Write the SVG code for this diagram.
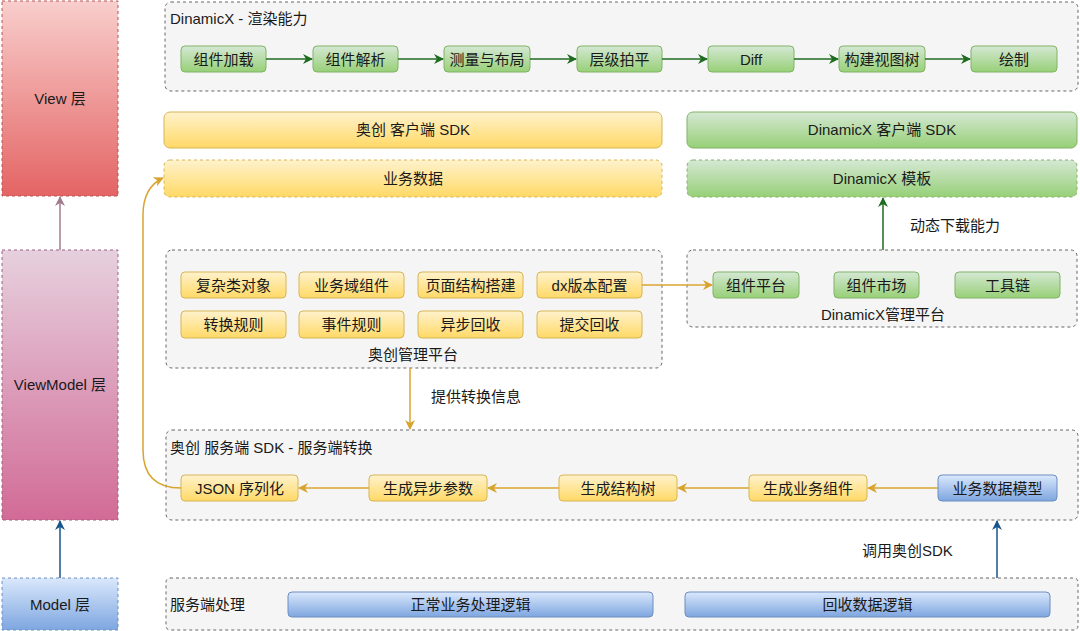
<svg xmlns="http://www.w3.org/2000/svg" width="1080" height="631" viewBox="0 0 1080 631">
<defs>
<linearGradient id="gG" x1="0" y1="0" x2="0" y2="1"><stop offset="0" stop-color="#d5e8d4"/><stop offset="1" stop-color="#97d077"/></linearGradient>
<linearGradient id="gY" x1="0" y1="0" x2="0" y2="1"><stop offset="0" stop-color="#fff2cc"/><stop offset="1" stop-color="#ffd966"/></linearGradient>
<linearGradient id="gB" x1="0" y1="0" x2="0" y2="1"><stop offset="0" stop-color="#dae8fc"/><stop offset="1" stop-color="#7ea6e0"/></linearGradient>
<linearGradient id="gR" x1="0" y1="0" x2="0" y2="1"><stop offset="0" stop-color="#f8cecc"/><stop offset="1" stop-color="#e46464"/></linearGradient>
<linearGradient id="gP" x1="0" y1="0" x2="0" y2="1"><stop offset="0" stop-color="#e6d0de"/><stop offset="1" stop-color="#d26b96"/></linearGradient>
<marker id="mG" viewBox="0 0 10 10" refX="9" refY="5" markerWidth="10" markerHeight="10" markerUnits="userSpaceOnUse" orient="auto"><path d="M0,0 L10,5 L0,10 L3,5 z" fill="#1f6b1f"/></marker>
<marker id="mY" viewBox="0 0 10 10" refX="9" refY="5" markerWidth="10" markerHeight="10" markerUnits="userSpaceOnUse" orient="auto"><path d="M0,0 L10,5 L0,10 L3,5 z" fill="#d9a42e"/></marker>
<marker id="mB" viewBox="0 0 10 10" refX="9" refY="5" markerWidth="10" markerHeight="10" markerUnits="userSpaceOnUse" orient="auto"><path d="M0,0 L10,5 L0,10 L3,5 z" fill="#17548a"/></marker>
<marker id="mP" viewBox="0 0 10 10" refX="9" refY="5" markerWidth="10" markerHeight="10" markerUnits="userSpaceOnUse" orient="auto"><path d="M0,0 L10,5 L0,10 L3,5 z" fill="#a07b8e"/></marker>
</defs>
<style>
text{font-family:"Liberation Sans","Noto Sans CJK SC",sans-serif;font-size:15px;fill:#1a1a1a}
.c{text-anchor:middle}
.ctr{fill:#f5f5f5;stroke:#666;stroke-width:1;stroke-dasharray:3 3}
.g{fill:url(#gG);stroke:#82b366}
.y{fill:url(#gY);stroke:#d6b656}
.b{fill:url(#gB);stroke:#6c8ebf}
.d{stroke-dasharray:3 3}
.lg{stroke:#1f6b1f;stroke-width:1.5;fill:none;marker-end:url(#mG)}
.ly{stroke:#d9a42e;stroke-width:1.5;fill:none;marker-end:url(#mY)}
.lb{stroke:#17548a;stroke-width:1.5;fill:none;marker-end:url(#mB)}
.lp{stroke:#a07b8e;stroke-width:1.5;fill:none;marker-end:url(#mP)}
</style>
<rect width="1080" height="631" fill="#ffffff"/>

<g id="view-layer"><rect x="2" y="1" width="116" height="195" fill="url(#gR)" stroke="#b85450" stroke-dasharray="3 3"/><text class="c" x="60" y="104">View 层</text></g>
<g id="viewmodel-layer"><rect x="2" y="250" width="116" height="270" fill="url(#gP)" stroke="#996185" stroke-dasharray="3 3"/><text class="c" x="60" y="390">ViewModel 层</text></g>
<g id="model-layer"><rect x="2" y="578" width="116" height="52" fill="url(#gB)" stroke="#6c8ebf" stroke-dasharray="3 3"/><text class="c" x="60" y="610">Model 层</text></g>

<g id="render-container"><rect class="ctr" x="165" y="2" width="913" height="89" rx="6"/><text x="170" y="24">DinamicX - 渲染能力</text></g>
<g id="n-load"><rect class="g" x="181" y="46" width="85" height="26" rx="4"/><text class="c" x="223.5" y="64.5">组件加载</text></g>
<g id="n-parse"><rect class="g" x="313" y="46" width="85" height="26" rx="4"/><text class="c" x="355.5" y="64.5">组件解析</text></g>
<g id="n-measure"><rect class="g" x="444" y="46" width="86" height="26" rx="4"/><text class="c" x="487" y="64.5">测量与布局</text></g>
<g id="n-flatten"><rect class="g" x="577" y="46" width="85" height="26" rx="4"/><text class="c" x="619.5" y="64.5">层级拍平</text></g>
<g id="n-diff"><rect class="g" x="708" y="46" width="86" height="26" rx="4"/><text class="c" x="751" y="64.5">Diff</text></g>
<g id="n-tree"><rect class="g" x="839" y="46" width="86" height="26" rx="4"/><text class="c" x="882" y="64.5">构建视图树</text></g>
<g id="n-draw"><rect class="g" x="971" y="46" width="86" height="26" rx="4"/><text class="c" x="1014" y="64.5">绘制</text></g>

<g id="ac-client-sdk"><rect class="y" x="164" y="112" width="498" height="36" rx="6"/><text class="c" x="413" y="135">奥创 客户端 SDK</text></g>
<g id="biz-data"><rect class="y d" x="164" y="160" width="498" height="37" rx="6"/><text class="c" x="413" y="184">业务数据</text></g>
<g id="dx-client-sdk"><rect class="g" x="687" y="112" width="390" height="36" rx="6"/><text class="c" x="882" y="135">DinamicX 客户端 SDK</text></g>
<g id="dx-template"><rect class="g d" x="687" y="160" width="390" height="37" rx="6"/><text class="c" x="882" y="184">DinamicX 模板</text></g>

<g id="ac-platform"><rect class="ctr" x="166" y="250" width="496" height="118" rx="6"/><text class="c" x="413" y="360">奥创管理平台</text></g>
<g id="p-complex"><rect class="y" x="181" y="272" width="105" height="26" rx="4"/><text class="c" x="233.5" y="290.5">复杂类对象</text></g>
<g id="p-domain"><rect class="y" x="299" y="272" width="105" height="26" rx="4"/><text class="c" x="351.5" y="290.5">业务域组件</text></g>
<g id="p-page"><rect class="y" x="418" y="272" width="105" height="26" rx="4"/><text class="c" x="470.5" y="290.5">页面结构搭建</text></g>
<g id="p-dx"><rect class="y" x="537" y="272" width="105" height="26" rx="4"/><text class="c" x="589.5" y="290.5">dx版本配置</text></g>
<g id="p-convert"><rect class="y" x="181" y="311" width="105" height="27" rx="4"/><text class="c" x="233.5" y="330">转换规则</text></g>
<g id="p-event"><rect class="y" x="299" y="311" width="105" height="27" rx="4"/><text class="c" x="351.5" y="330">事件规则</text></g>
<g id="p-async"><rect class="y" x="418" y="311" width="105" height="27" rx="4"/><text class="c" x="470.5" y="330">异步回收</text></g>
<g id="p-submit"><rect class="y" x="537" y="311" width="105" height="27" rx="4"/><text class="c" x="589.5" y="330">提交回收</text></g>

<g id="dx-platform"><rect class="ctr" x="687" y="250" width="390" height="77" rx="6"/><text class="c" x="883" y="320">DinamicX管理平台</text></g>
<g id="dx-comp"><rect class="g" x="713" y="272" width="86" height="26" rx="4"/><text class="c" x="756" y="290.5">组件平台</text></g>
<g id="dx-market"><rect class="g" x="834" y="272" width="85" height="26" rx="4"/><text class="c" x="876.5" y="290.5">组件市场</text></g>
<g id="dx-tool"><rect class="g" x="955" y="272" width="105" height="26" rx="4"/><text class="c" x="1007.5" y="290.5">工具链</text></g>

<g id="server-sdk"><rect class="ctr" x="166" y="430" width="912" height="90" rx="6"/><text x="170" y="453">奥创 服务端 SDK - 服务端转换</text></g>
<g id="s-json"><rect class="y" x="181" y="475" width="117" height="26" rx="4"/><text class="c" x="239.5" y="493.5">JSON 序列化</text></g>
<g id="s-async"><rect class="y" x="369" y="475" width="118" height="26" rx="4"/><text class="c" x="428" y="493.5">生成异步参数</text></g>
<g id="s-tree"><rect class="y" x="559" y="475" width="118" height="26" rx="4"/><text class="c" x="618" y="493.5">生成结构树</text></g>
<g id="s-comp"><rect class="y" x="749" y="475" width="118" height="26" rx="4"/><text class="c" x="808" y="493.5">生成业务组件</text></g>
<g id="s-model"><rect class="b" x="938" y="475" width="119" height="26" rx="4"/><text class="c" x="997.5" y="493.5">业务数据模型</text></g>

<g id="server-proc"><rect class="ctr" x="166" y="578" width="912" height="52" rx="4"/><text x="170" y="610">服务端处理</text></g>
<g id="normal-logic"><rect class="b" x="288" y="592" width="365" height="25" rx="4"/><text class="c" x="470.5" y="610">正常业务处理逻辑</text></g>
<g id="recycle-logic"><rect class="b" x="685" y="592" width="365" height="25" rx="4"/><text class="c" x="867.5" y="610">回收数据逻辑</text></g>

<g id="connectors">
<path class="lp" d="M60,250 L60,197"/>
<path class="lb" d="M60,578 L60,521"/>
<path class="lg" d="M266,59 L312,59"/>
<path class="lg" d="M398,59 L443,59"/>
<path class="lg" d="M530,59 L576,59"/>
<path class="lg" d="M662,59 L707,59"/>
<path class="lg" d="M794,59 L838,59"/>
<path class="lg" d="M925,59 L970,59"/>
<path class="lg" d="M883,250 L883,198"/>
<path class="ly" d="M642,285 L712,285"/>
<path class="ly" d="M410,368 L410,429"/>
<path class="ly" d="M938,488 L868,488"/>
<path class="ly" d="M749,488 L678,488"/>
<path class="ly" d="M559,488 L488,488"/>
<path class="ly" d="M369,488 L299,488"/>
<path class="ly" d="M181,488 C155,488 143,475 143,450 L143,215 C143,196 150,184 163,178"/>
<path class="lb" d="M997,578 L997,521"/>
<text x="910" y="231" font-size="14">动态下载能力</text>
<text x="431" y="402" font-size="14">提供转换信息</text>
<text x="862" y="556" font-size="14">调用奥创SDK</text>
</g>
</svg>
